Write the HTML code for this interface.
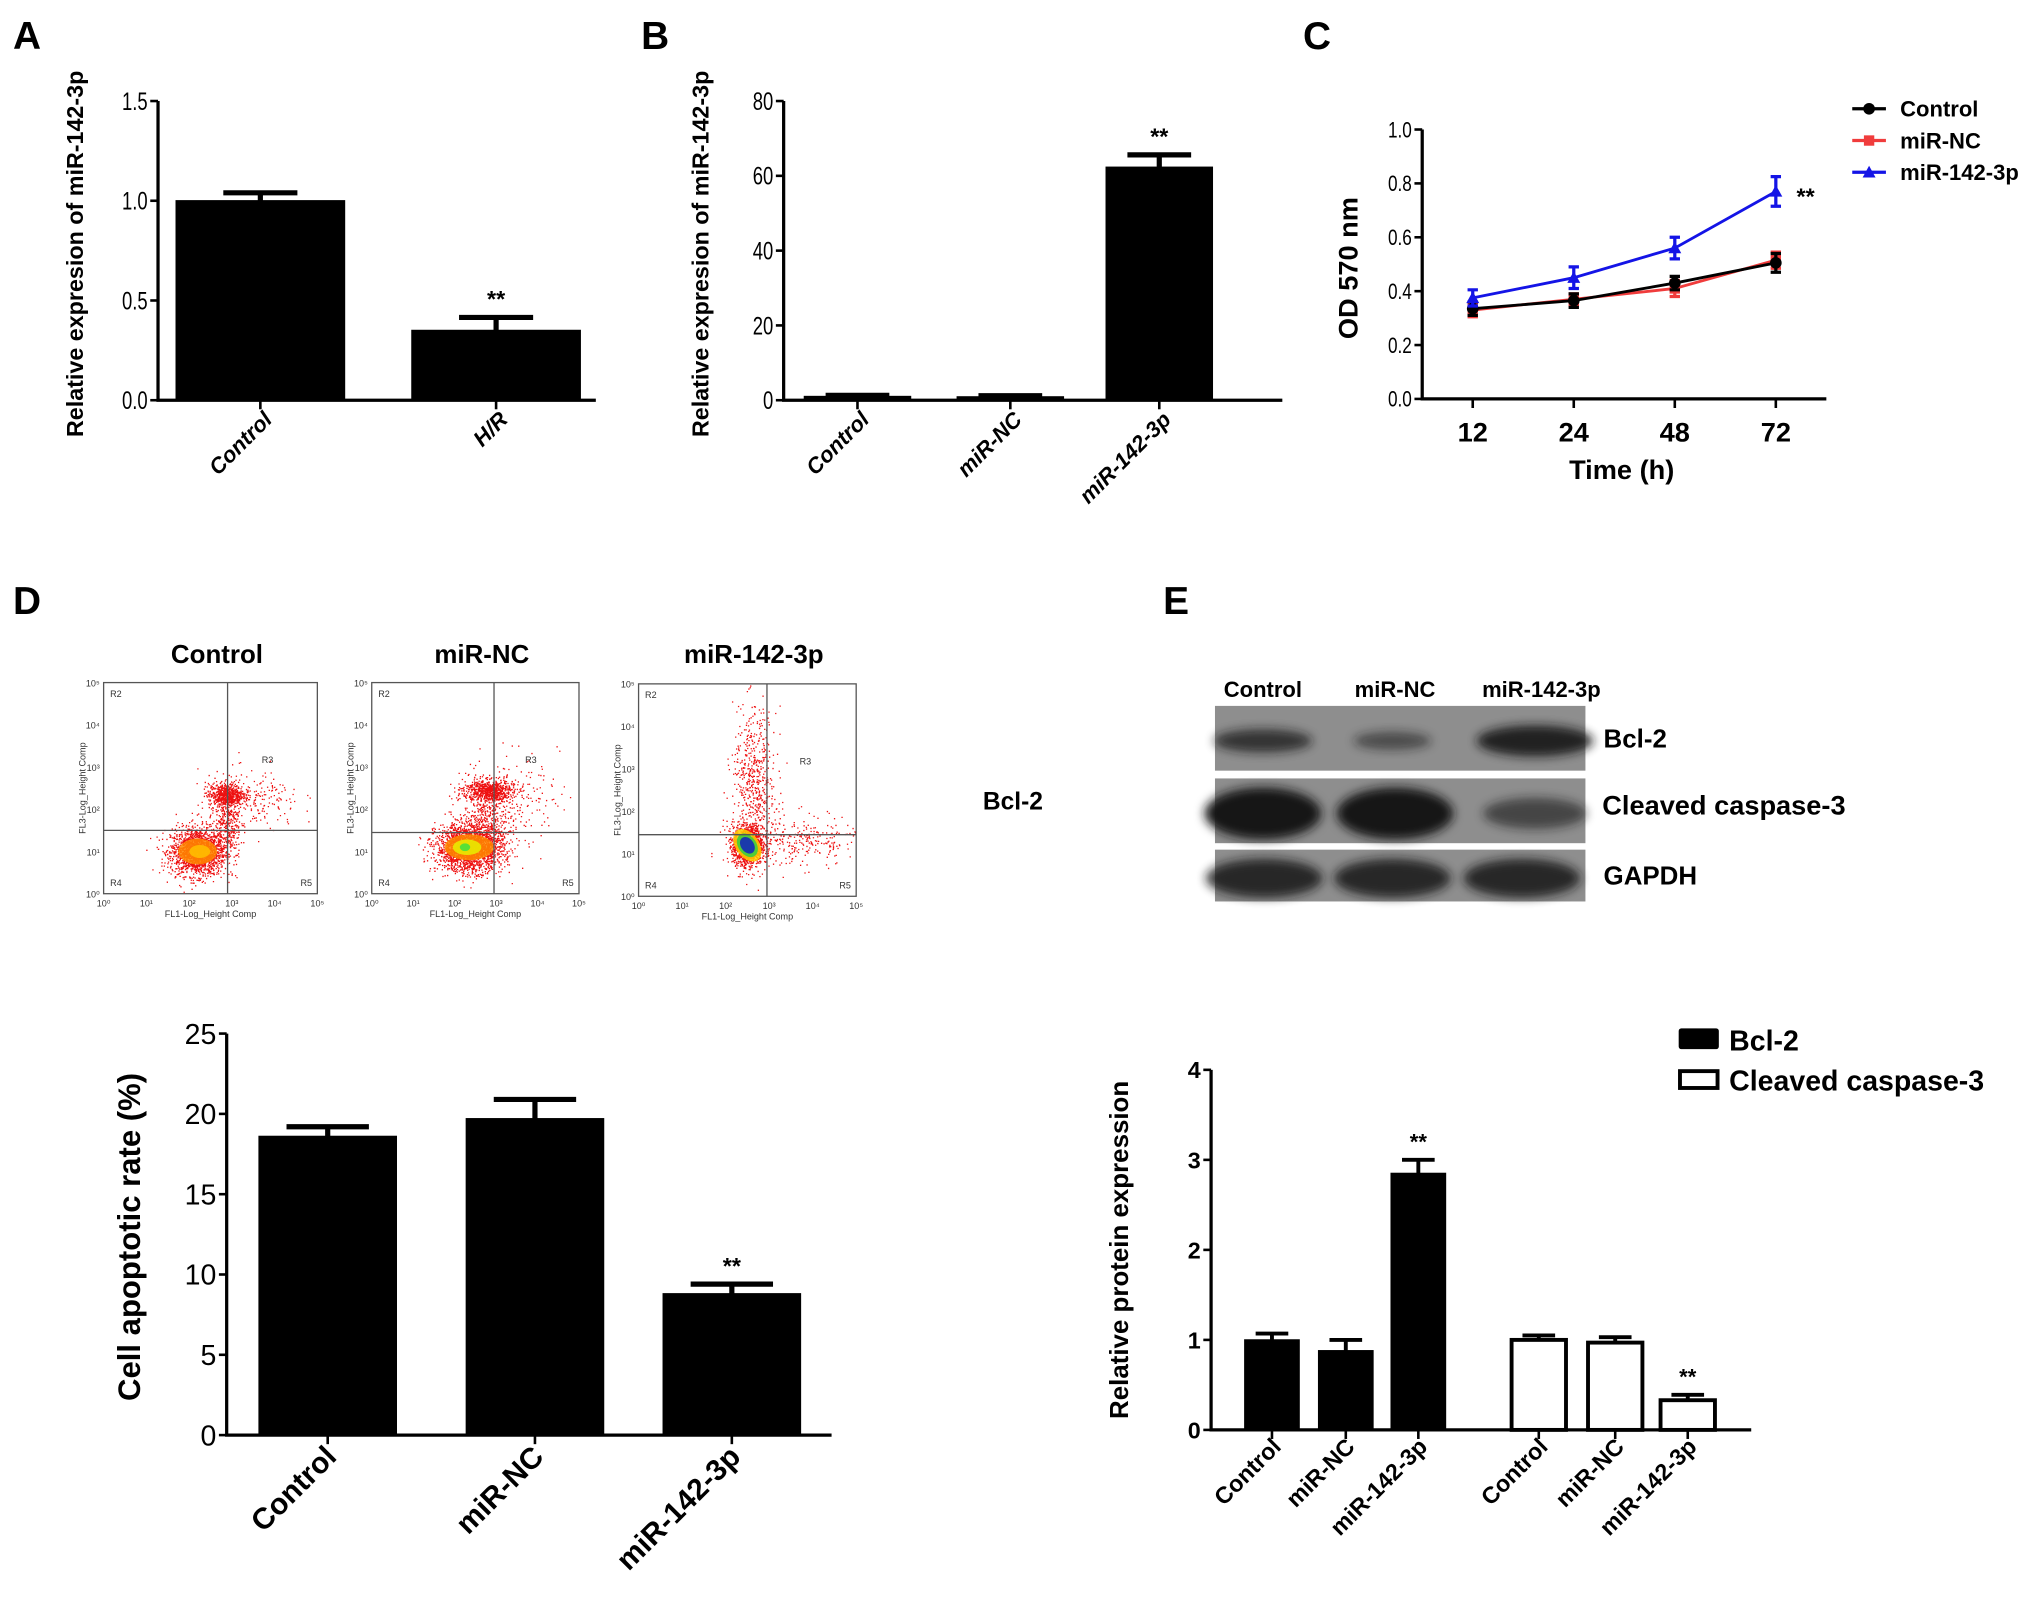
<!DOCTYPE html>
<html><head><meta charset="utf-8"><style>
html,body{margin:0;padding:0;background:#fff}
svg{display:block}
text{font-family:"Liberation Sans",Arial,sans-serif}
</style></head><body>
<svg id="fig" xmlns="http://www.w3.org/2000/svg" width="2031" height="1597" viewBox="0 0 1568 1233" preserveAspectRatio="none">
<defs><filter id="blur" x="-20%" y="-50%" width="140%" height="200%"><feGaussianBlur stdDeviation="4"/></filter></defs>
<g font-weight="bold" font-size="30">
<text x="10" y="38">A</text>
<text x="495" y="38">B</text>
<text x="1006" y="38">C</text>
<text x="10" y="474">D</text>
<text x="898" y="474">E</text>
</g>
<g id="root"></g>
</svg>
<script>
// ---- Panel A data
const aCats=["Control","H/R"];
const aVals=[1.0,0.35];
const aErr=[0.04,0.065];
const aTicks=[0,0.5,1.0,1.5];
// ---- Panel B data
const bCats=["Control","miR-NC","miR-142-3p"];
const bVals=[1.0,0.9,62.3];
const bErr=[0.3,0.3,3.3];
const bTicks=[0,20,40,60,80];
// ---- Panel C data
const cTimes=["12","24","48","72"];
const cControl=[0.335,0.365,0.43,0.505];
const cControlErr=[0.025,0.025,0.025,0.035];
const cNC=[0.33,0.37,0.41,0.515];
const cNCErr=[0.025,0.02,0.03,0.03];
const c142=[0.375,0.45,0.56,0.77];
const c142Err=[0.03,0.04,0.04,0.055];
const cTicks=[0,0.2,0.4,0.6,0.8,1.0];
// ---- Panel D bar data
const dCats=["Control","miR-NC","miR-142-3p"];
const dVals=[18.6,19.7,8.8];
const dErr=[0.6,1.2,0.6];
const dTicks=[0,5,10,15,20,25];
// ---- Panel E bar data
const eCats=["Control","miR-NC","miR-142-3p"];
const eBcl2=[1.0,0.88,2.85];
const eBcl2Err=[0.07,0.12,0.15];
const eCasp=[1.0,0.97,0.33];
const eCaspErr=[0.05,0.06,0.06];
const eTicks=[0,1,2,3,4];

const NS="http://www.w3.org/2000/svg";
const root=document.getElementById('root');
function mk(tag,attrs,parent){const e=document.createElementNS(NS,tag);for(const k in attrs)e.setAttribute(k,attrs[k]);(parent||root).appendChild(e);return e;}
function txt(s,x,y,o,parent){const e=mk('text',Object.assign({x:x,y:y},o||{}),parent);e.textContent=s;return e;}

function barChart(cfg){
  const g=mk('g',{});
  
  
  const ys=v=>cfg.y0-(v-cfg.min)/(cfg.max-cfg.min)*(cfg.y0-cfg.y1);
  const ax=mk('path',{d:`M${cfg.x0},${cfg.y1} V${cfg.y0} H${cfg.x2}`,stroke:'#000','stroke-width':cfg.aw||2.5,fill:'none'},g);
  
  
  cfg.ticks.forEach(t=>{
    const y=ys(t);
    const tk=mk('line',{x1:cfg.x0-6,x2:cfg.x0,y1:y,y2:y,stroke:'#000','stroke-width':2},g);
    
    
    const lb=txt(cfg.fmt?cfg.fmt(t):String(t),cfg.x0-8,y+cfg.tfs*0.36,{'text-anchor':'end','font-size':cfg.tfs,'font-weight':cfg.tw||'normal',transform:cfg.narrow?`translate(${cfg.x0-8},0) scale(0.75,1) translate(${-(cfg.x0-8)},0)`:''},g);
    
    
  });
  cfg.series.forEach((s,si)=>{
    s.vals.forEach((v,i)=>{
      const cx=s.centers[i], w=cfg.bw;
      const top=ys(v), bot=ys(0);
      const cw=cfg.cap||0.3;
      const eb=mk('path',{d:`M${cx},${top} V${ys(v+s.err[i])} M${cx-w*cw},${ys(v+s.err[i])} H${cx+w*cw}`,stroke:'#000','stroke-width':cfg.ew||4,fill:'none'},g);
      
      
      const r=mk('rect',{x:cx-w/2,y:top,width:w,height:Math.max(bot-top,1.5),fill:s.fill,stroke:'#000','stroke-width':s.fill==='#fff'?3:1},g);
      
      
      const tk=mk('line',{x1:cx,x2:cx,y1:cfg.y0,y2:cfg.y0+7,stroke:'#000','stroke-width':2},g);
      
      
      const lb=txt(cfg.cats[i],cx+cfg.lox,cfg.y0+cfg.loy,{'text-anchor':'end','font-size':cfg.xfs,'font-weight':'bold','font-style':cfg.italic?'italic':'normal',transform:`rotate(-45 ${cx+cfg.lox} ${cfg.y0+cfg.loy})`},g);
      
      
      if(s.star&&s.star[i]){
        const st=txt('**',cx,ys(v+s.err[i])-8,{'text-anchor':'middle','font-size':cfg.sfs||18,'font-weight':'bold'},g);
        
        
      }
    });
  });
  const yt=txt(cfg.ytitle,0,0,{'text-anchor':'middle','font-size':cfg.yfs,'font-weight':'bold',transform:`translate(${cfg.ytx},${cfg.yty}) rotate(-90)`},g);
  
  
  return ys;
}

// Panel A
barChart({name:'chart-a',x0:122,x2:460,y0:309,y1:78,min:0,max:1.5,ticks:aTicks,fmt:t=>t.toFixed(1),tfs:19,narrow:true,
  cats:aCats,bw:130,xfs:17,italic:true,lox:10,loy:16,cap:0.22,
  series:[{key:'a',vals:aVals,err:aErr,centers:[201,383],fill:'#000',star:[0,1]}],
  ytitle:'Relative expresion of miR-142-3p',yfs:18,ytx:64,yty:196});
// Panel B
barChart({name:'chart-b',x0:605,x2:990,y0:309,y1:78,min:0,max:80,ticks:bTicks,tfs:19,narrow:true,
  cats:bCats,bw:82,xfs:17,italic:true,lox:10,loy:16,cap:0.3,
  series:[{key:'b',vals:bVals,err:bErr,centers:[662,780,895],fill:'#000',star:[0,0,1]}],
  ytitle:'Relative expresion of miR-142-3p',yfs:18,ytx:547,yty:196});
// Panel D bars
barChart({name:'chart-d-apoptosis',x0:175,x2:642,y0:1108,y1:798,min:0,max:25,ticks:dTicks,tfs:22,tw:'normal',
  cats:dCats,bw:106,xfs:23,lox:8,loy:18,sfs:18,ew:4,
  series:[{key:'d',vals:dVals,err:dErr,centers:[253,413,565],fill:'#000',star:[0,0,1]}],
  ytitle:'Cell apoptotic rate (%)',yfs:24,ytx:108,yty:955});
// Panel E bars
barChart({name:'chart-e-protein',x0:935,x2:1352,y0:1104,y1:826,min:0,max:4,ticks:eTicks,tfs:18,tw:'bold',
  cats:eCats,bw:42,xfs:18,lox:8,loy:14,sfs:17,ew:3,
  series:[{key:'bcl2',vals:eBcl2,err:eBcl2Err,centers:[982,1039,1095],fill:'#000',star:[0,0,1]},
          {key:'caspase3',vals:eCasp,err:eCaspErr,centers:[1188,1247,1303],fill:'#fff',star:[0,0,1]}],
  ytitle:'Relative protein expression',yfs:20,ytx:871,yty:965});
// E legend
(function(){
  const g=mk('g',{});
  
  
  const r1=mk('rect',{x:1296,y:794,width:31,height:16,fill:'#000',rx:2},g);
  
  
  const t1=txt('Bcl-2',1335,811,{'font-size':22,'font-weight':'bold'},g);
  
  
  const r2=mk('rect',{x:1297,y:827,width:29,height:13,fill:'#fff',stroke:'#000','stroke-width':3},g);
  
  
  const t2=txt('Cleaved caspase-3',1335,842,{'font-size':22,'font-weight':'bold'},g);
  
  
})();

// Panel C line chart
(function(){
  const g=mk('g',{});
  
  
  const x0=1098,x2=1410,y0=308,y1=100;
  const ys=v=>y0-v/1.0*(y0-y1);
  const xs=i=>1137+i*78;
  const ax=mk('path',{d:`M${x0},${y1} V${y0} H${x2}`,stroke:'#000','stroke-width':2.5,fill:'none'},g);
  
  
  cTicks.forEach(t=>{
    const tk=mk('line',{x1:x0-6,x2:x0,y1:ys(t),y2:ys(t),stroke:'#000','stroke-width':2},g);
    
    
    const lb=txt(t.toFixed(1),x0-8,ys(t)+6,{'text-anchor':'end','font-size':17,transform:`translate(${x0-8},0) scale(0.78,1) translate(${-(x0-8)},0)`},g);
    
    
  });
  cTimes.forEach((t,i)=>{
    const tk=mk('line',{x1:xs(i),x2:xs(i),y1:y0,y2:y0+7,stroke:'#000','stroke-width':2},g);
    
    
    const lb=txt(t,xs(i),y0+33,{'text-anchor':'middle','font-size':21,'font-weight':'bold'},g);
    
    
  });
  const xt=txt('Time (h)',1252,370,{'text-anchor':'middle','font-size':21,'font-weight':'bold'},g);
  
  
  const yt=txt('OD 570 nm',0,0,{'text-anchor':'middle','font-size':21,'font-weight':'bold',transform:'translate(1048,207) rotate(-90)'},g);
  
  
  const series=[{k:'mir-nc',v:cNC,e:cNCErr,c:'#f03c3c',m:'sq'},{k:'control',v:cControl,e:cControlErr,c:'#000',m:'ci'},{k:'mir-142-3p',v:c142,e:c142Err,c:'#1414e6',m:'tr'}];
  series.forEach(s=>{
    const pl=mk('polyline',{points:s.v.map((v,i)=>xs(i)+','+ys(v)).join(' '),fill:'none',stroke:s.c,'stroke-width':2.2},g);
    
    
    s.v.forEach((v,i)=>{
      const x=xs(i),y=ys(v),hi=ys(v+s.e[i]),lo=ys(v-s.e[i]);
      const eb=mk('path',{d:`M${x},${hi} V${lo} M${x-4},${hi} H${x+4} M${x-4},${lo} H${x+4}`,stroke:s.c,'stroke-width':2.5,fill:'none'},g);
      
      
      let m;
      if(s.m==='ci') m=mk('circle',{cx:x,cy:y,r:4.5,fill:s.c},g);
      else if(s.m==='sq') m=mk('rect',{x:x-4,y:y-4,width:8,height:8,fill:s.c},g);
      else m=mk('path',{d:`M${x},${y-5} L${x+5},${y+4} L${x-5},${y+4} Z`,fill:s.c},g);
      
      
    });
  });
  const st=txt('**',1394,158,{'text-anchor':'middle','font-size':18,'font-weight':'bold'},g);
  
  
  const leg=[['Control','#000','ci'],['miR-NC','#f03c3c','sq'],['miR-142-3p','#1414e6','tr']];
  leg.forEach((l,i)=>{
    const y=84+i*24.5;
    const ln=mk('line',{x1:1430,x2:1456,y1:y,y2:y,stroke:l[1],'stroke-width':2.5},g);
    
    
    let m;
    if(l[2]==='ci') m=mk('circle',{cx:1443,cy:y,r:4.5,fill:l[1]},g);
    else if(l[2]==='sq') m=mk('rect',{x:1439,y:y-4,width:8,height:8,fill:l[1]},g);
    else m=mk('path',{d:`M1443,${y-5} L1448,${y+4} L1438,${y+4} Z`,fill:l[1]},g);
    
    
    const t=txt(l[0],1467,y+6,{'font-size':17,'font-weight':'bold'},g);
    
    
  });
})();

// Panel D flow cytometry plots
const flowTitles=["Control","miR-NC","miR-142-3p"];
const flowClusters=[
  [[2.2,1.0,0.32,0.28,1800],[2.85,2.35,0.2,0.13,600],[2.9,1.7,0.15,0.4,300],[3.4,2.2,0.6,0.35,250]],
  [[2.35,1.1,0.4,0.28,2200],[2.8,2.45,0.3,0.13,700],[2.8,1.8,0.3,0.4,300],[3.3,2.3,0.6,0.5,200]],
  [[2.5,1.2,0.17,0.22,1500],[2.65,2.6,0.25,0.9,600],[3.6,1.3,0.7,0.3,300]]
];
const flowCores=[[[2.2,1.0,15,10,'#ff8a00'],[2.25,1.0,8,5,'#ffc000']],[[2.35,1.1,19,10,'#ff8a00'],[2.3,1.1,11,6,'#e8f000'],[2.25,1.1,4,3,'#40e040']],[[2.5,1.2,9,14,'#ffd000'],[2.5,1.2,7,10,'#30d040'],[2.5,1.2,5,7,'#1020c0']]];
(function(){
  let seed=12345;
  const rnd=()=>{seed=(seed*1103515245+12345)%2147483648;return seed/2147483648;};
  const gauss=()=>{let u=rnd()||1e-6,v=rnd();return Math.sqrt(-2*Math.log(u))*Math.cos(2*Math.PI*v);};
  const boxes=[[80,245,527,690],[287,447,527,690],[493,661,528,692]];
  const sup=['⁰','¹','²','³','⁴','⁵'];
  boxes.forEach((b,p)=>{
    const g=mk('g',{});
    
    
    const [xa,xb,ya,yb]=b;
    const fx=v=>xa+v/5*(xb-xa), fy=v=>yb-v/5*(yb-ya);
    const tt=txt(flowTitles[p],(xa+xb)/2+5,512,{'text-anchor':'middle','font-size':20,'font-weight':'bold'},g);
    
    
    let d='';
    flowClusters[p].forEach(c=>{for(let k=0;k<c[4];k++){const x=c[0]+gauss()*c[2],y=c[1]+gauss()*c[3];if(x>0&&x<5&&y>0&&y<5)d+=`M${fx(x).toFixed(1)},${fy(y).toFixed(1)}h1v1h-1z`;}});
    const pts=mk('path',{d:d,fill:'#ee1010'},g);
    
    
    flowCores[p].forEach(c=>{
      const e=mk('ellipse',{cx:fx(c[0]),cy:fy(c[1]),rx:c[2],ry:c[3],fill:c[4],opacity:0.85,filter:'',transform:p===2?`rotate(-35 ${fx(c[0])} ${fy(c[1])})`:''},g);
      
      
    });
    const bx=mk('rect',{x:xa,y:ya,width:xb-xa,height:yb-ya,fill:'none',stroke:'#555','stroke-width':1},g);
    
    
    const gx=[2.9,2.95,2.95][p], gy=[1.5,1.45,1.45][p];
    const gl=mk('path',{d:`M${fx(gx)},${ya} V${yb} M${xa},${fy(gy)} H${xb}`,stroke:'#555','stroke-width':1,fill:'none'},g);
    
    
    for(let i=0;i<=5;i++){
      const a=txt('10'+sup[i],fx(i),yb+10,{'text-anchor':'middle','font-size':7,fill:'#333'},g);
      
      
      const c=txt('10'+sup[i],xa-3,fy(i)+3,{'text-anchor':'end','font-size':7,fill:'#333'},g);
      
      
    }
    const xl=txt('FL1-Log_Height Comp',(xa+xb)/2,yb+18,{'text-anchor':'middle','font-size':7,fill:'#333'},g);
    
    
    const yl=txt('FL3-Log_Height Comp',0,0,{'text-anchor':'middle','font-size':7,fill:'#333',transform:`translate(${xa-14},${fy(2.5)}) rotate(-90)`},g);
    
    
    [['R2',xa+5,ya+11],['R3',fx(3.7),fy(3.1)],['R4',xa+5,yb-6],['R5',xb-13,yb-6]].forEach(r=>{
      const t=txt(r[0],r[1],r[2],{'font-size':7,fill:'#333'},g);
      
      
    });
  });
  const bl=txt('Bcl-2',782,625,{'text-anchor':'middle','font-size':19,'font-weight':'bold'});
  
  
})();

// Panel E western blot
const blotLanes=["Control","miR-NC","miR-142-3p"];
const blotRows=["Bcl-2","Cleaved caspase-3","GAPDH"];
const blotIntensity=[[0.75,0.55,0.9],[1,1,0.6],[0.85,0.85,0.85]];
(function(){
  const g=mk('g',{});
  
  
  const laneX=[975,1077,1190];
  blotLanes.forEach((l,i)=>{
    const t=txt(l,laneX[i],538,{'text-anchor':'middle','font-size':17,'font-weight':'bold'},g);
    
    
  });
  const rows=[[545,595,570],[601,651,622],[656,696,676]];
  const bandW=[[[975,38,9],[1075,30,7],[1185,45,12]],[[975,45,20],[1077,45,20],[1185,40,12]],[[976,45,15],[1075,45,15],[1175,45,15]]];
  rows.forEach((r,ri)=>{
    const bg=mk('rect',{x:938,y:r[0],width:286,height:r[1]-r[0],fill:'#8e8e8e'},g);
    
    
    bandW[ri].forEach((bw,li)=>{
      const a=blotIntensity[ri][li];
      const e=mk('ellipse',{cx:bw[0],cy:(r[0]+r[1])/2+2,rx:bw[1],ry:bw[2],fill:'#141414',opacity:a,filter:'url(#blur)'},g);
      
      
    });
    const t=txt(blotRows[ri],ri===1?1237:1238,r[2]+7,{'font-size':ri===1?21:20,'font-weight':'bold'},g);
    
    
  });
})();
</script>
</body></html>
